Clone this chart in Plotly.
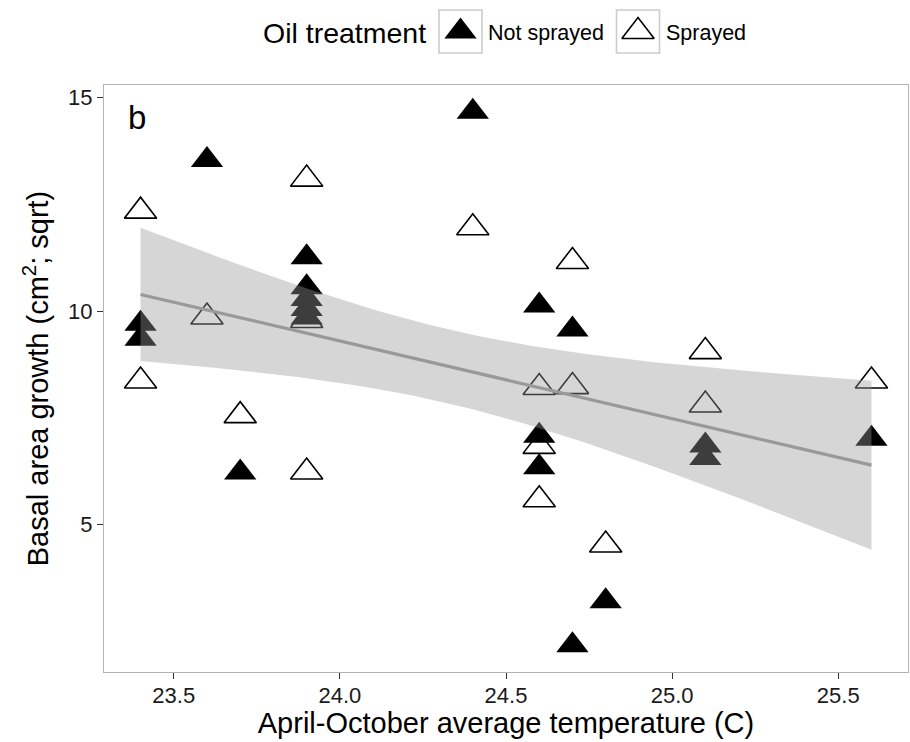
import numpy as np
import plotly.graph_objects as go

# Basal area growth (sqrt cm^2) against April-October mean temperature, by oil treatment
temp_not_sprayed = [23.4, 23.4, 23.6, 23.7, 23.9, 23.9, 23.9, 23.9, 23.9, 24.4,
                    24.6, 24.6, 24.6, 24.7, 24.7, 24.8, 25.1, 25.1, 25.6]
growth_not_sprayed = [9.70, 9.35, 13.54, 6.22, 11.26, 10.56, 10.28, 10.05, 9.85, 14.67,
                      10.13, 7.08, 6.34, 9.57, 2.17, 3.20, 6.85, 6.56, 7.01]
temp_sprayed = [23.4, 23.4, 23.6, 23.7, 23.9, 23.9, 23.9, 24.4, 24.6, 24.6,
                24.6, 24.7, 24.7, 24.8, 25.1, 25.1, 25.6]
growth_sprayed = [12.34, 8.36, 9.86, 7.55, 13.09, 9.78, 6.23, 11.95, 8.21, 6.83,
                  5.58, 11.16, 8.23, 4.52, 9.05, 7.80, 8.36]

treatments = ["Not sprayed", "Sprayed"]
x_ticks = [23.5, 24.0, 24.5, 25.0, 25.5]
y_ticks = [5, 10, 15]

# ---- linear fit with 95% confidence band (pooled over treatments) ----
x_all = np.array(temp_not_sprayed + temp_sprayed)
y_all = np.array(growth_not_sprayed + growth_sprayed)
n = len(x_all)
slope, intercept = np.polyfit(x_all, y_all, 1)
resid = y_all - (intercept + slope * x_all)
dof = n - 2
s = np.sqrt(np.sum(resid ** 2) / dof)
sxx = np.sum((x_all - x_all.mean()) ** 2)
z = 1.959964  # Cornish-Fisher expansion of the t quantile
t_q = z + (z ** 3 + z) / (4 * dof) + (5 * z ** 5 + 16 * z ** 3 + 3 * z) / (96 * dof ** 2)
x_fit = np.linspace(x_all.min(), x_all.max(), 80)
y_fit = intercept + slope * x_fit
se = s * np.sqrt(1 / n + (x_fit - x_all.mean()) ** 2 / sxx)
upper = y_fit + t_q * se
lower = y_fit - t_q * se


def expanded(v, mult=0.05):
    lo, hi = float(np.min(v)), float(np.max(v))
    pad = (hi - lo) * mult
    return [lo - pad, hi + pad]


# ---- page geometry (pixels) ----
W, H = 910, 742
def fx(px):
    return px / W
def fy(py):
    return 1 - py / H

P_LEFT, P_RIGHT, P_TOP, P_BOTTOM = 104, 908, 85, 672
FONT = "Liberation Sans, Arial, Helvetica, sans-serif"
MSIZE = 28

fig = go.Figure()

fig.add_trace(go.Scatter(
    x=temp_not_sprayed, y=growth_not_sprayed, mode="markers", name=treatments[0],
    marker=dict(symbol="triangle-up", size=MSIZE, color="black", line=dict(width=0)),
    showlegend=False))
fig.add_trace(go.Scatter(
    x=temp_sprayed, y=growth_sprayed, mode="markers", name=treatments[1],
    marker=dict(symbol="triangle-up", size=MSIZE, color="rgba(0,0,0,0)",
                line=dict(color="black", width=1.6)),
    showlegend=False))

# confidence ribbon and fitted line sit above the points
fig.add_trace(go.Scatter(
    x=np.concatenate([x_fit, x_fit[::-1]]), y=np.concatenate([upper, lower[::-1]]),
    fill="toself", fillcolor="rgba(153,153,153,0.4)", line=dict(width=0),
    mode="lines", hoverinfo="skip", showlegend=False))
fig.add_trace(go.Scatter(
    x=x_fit, y=y_fit, mode="lines", line=dict(color="#999999", width=3.2),
    hoverinfo="skip", showlegend=False))

# ---- legend keys on a small auxiliary axis ----
key_pos = [0, 1]
key_cx = [460.5, 638.0]
key_step = key_cx[1] - key_cx[0]
key_cy = 31.5
fig.add_trace(go.Scatter(
    x=[key_pos[0]], y=[0], xaxis="x2", yaxis="y2", mode="markers",
    marker=dict(symbol="triangle-up", size=MSIZE, color="black", line=dict(width=0)),
    showlegend=False, hoverinfo="skip"))
fig.add_trace(go.Scatter(
    x=[key_pos[1]], y=[0], xaxis="x2", yaxis="y2", mode="markers",
    marker=dict(symbol="triangle-up", size=MSIZE, color="rgba(0,0,0,0)",
                line=dict(color="black", width=1.6)),
    showlegend=False, hoverinfo="skip"))

shapes = []
annotations = []
half = 21.5
for cx, label in zip(key_cx, treatments):
    shapes.append(dict(type="rect", xref="paper", yref="paper",
                       x0=fx(cx - half), x1=fx(cx + half),
                       y0=fy(key_cy + half), y1=fy(key_cy - half),
                       line=dict(color="#cccccc", width=1.6), fillcolor="rgba(0,0,0,0)",
                       layer="below"))
    annotations.append(dict(text=label, xref="paper", yref="paper",
                            x=fx(cx + half + 4), y=fy(key_cy + 1), xanchor="left",
                            yanchor="middle", showarrow=False,
                            font=dict(size=21.5, color="black", family=FONT)))
annotations.append(dict(text="Oil treatment", xref="paper", yref="paper",
                        x=fx(key_cx[0] - half - 11), y=fy(key_cy + 2), xanchor="right",
                        yanchor="middle", showarrow=False,
                        font=dict(size=28.5, color="black", family=FONT)))
annotations.append(dict(text="b", xref="paper", yref="paper",
                        x=fx(126), y=fy(117), xanchor="left", yanchor="middle",
                        showarrow=False, font=dict(size=33, color="black", family=FONT)))

axis_common = dict(showgrid=False, zeroline=False, showline=True, mirror=True,
                   linecolor="#b3b3b3", linewidth=1.2, ticks="outside", ticklen=6,
                   tickwidth=1.3, tickcolor="#333333",
                   tickfont=dict(size=22, color="#1a1a1a", family=FONT))

fig.update_layout(
    width=W, height=H, autosize=False,
    margin=dict(l=0, r=0, t=0, b=0),
    paper_bgcolor="white", plot_bgcolor="white",
    font=dict(family=FONT, color="black"),
    xaxis=dict(domain=[fx(P_LEFT), fx(P_RIGHT)], range=expanded(x_all),
               tickvals=x_ticks, ticktext=[f"{v:.1f}" for v in x_ticks],
               ticklabelstandoff=-3,
               title=dict(text="April-October average temperature (C)",
                          font=dict(size=29, color="black", family=FONT), standoff=0),
               automargin=False, **axis_common),
    yaxis=dict(domain=[fy(P_BOTTOM), fy(P_TOP)], range=expanded(y_all),
               tickvals=y_ticks, ticktext=[str(v) for v in y_ticks],
               title=dict(text="Basal area growth (cm<sup>2</sup>; sqrt)",
                          font=dict(size=29, color="black", family=FONT), standoff=10),
               automargin=False, **axis_common),
    xaxis2=dict(domain=[fx(key_cx[0] - key_step / 2), fx(key_cx[1] + key_step / 2)],
                range=[-0.5, 1.5], visible=False, showticklabels=False,
                anchor="y2", fixedrange=True),
    yaxis2=dict(domain=[fy(key_cy + half), fy(key_cy - half)], range=[-1, 1],
                visible=False, showticklabels=False, anchor="x2", fixedrange=True),
    shapes=shapes, annotations=annotations,
)

fig.write_html("out.html")
